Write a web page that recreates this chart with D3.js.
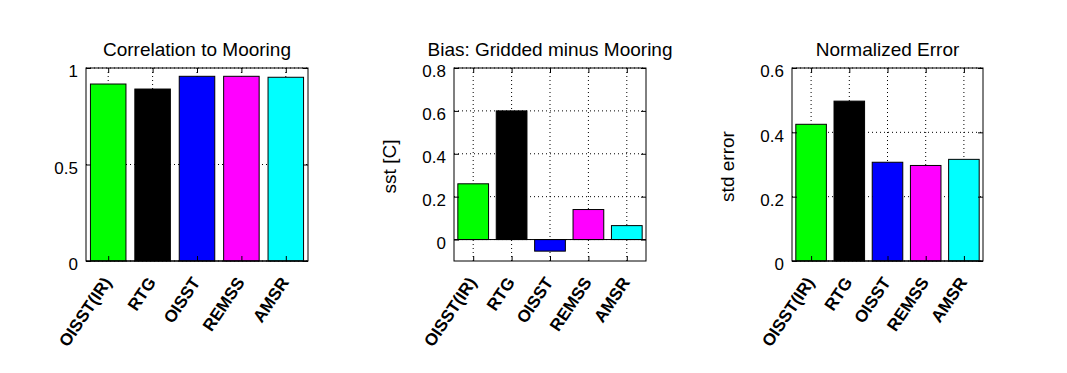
<!DOCTYPE html>
<meta charset="utf-8">
<title>Mooring comparison</title>
<style>
  body { margin: 0; background: #fff; }
  text { font-family: "Liberation Sans", Arial, sans-serif; fill: #000; }
  .title { font-size: 19px; text-anchor: middle; }
  .grid { stroke: #000; stroke-width: 1px; stroke-dasharray: 1,3; }
  .bar { stroke: #000; stroke-width: 1px; }
  .frame { fill: none; stroke: #000; stroke-width: 1px; }
</style>
<svg width="1067" height="373"></svg>
<script src="https://d3js.org/d3.v7.min.js"></script>
<script>
  var categories = ["OISST(IR)", "RTG", "OISST", "REMSS", "AMSR"];
  var barColors = ["#00ff00", "#000000", "#0000ff", "#ff00ff", "#00ffff"];

  var correlation = [0.917, 0.891, 0.957, 0.957, 0.952];
  var bias = [0.26, 0.60, -0.054, 0.14, 0.065];
  var normError = [0.425, 0.497, 0.307, 0.297, 0.316];

  var corrTicks = [0, 0.5, 1];
  var biasTicks = [0, 0.2, 0.4, 0.6, 0.8];
  var errTicks = [0, 0.2, 0.4, 0.6];

  var panels = [
    { title: "Correlation to Mooring", values: correlation, domain: [0, 1], ticks: corrTicks, ylabel: null, x0: 86, x1: 308 },
    { title: "Bias: Gridded minus Mooring", values: bias, domain: [-0.1, 0.8], ticks: biasTicks, ylabel: "sst [C]", x0: 454, x1: 646 },
    { title: "Normalized Error", values: normError, domain: [0, 0.6], ticks: errTicks, ylabel: "std error", x0: 792, x1: 983 }
  ];

  var plotTop = 68, plotBottom = 261;
  var svg = d3.select("svg");
  svg.append("rect").attr("width", 1067).attr("height", 373).attr("fill", "#fff");

  panels.forEach(function (p) {
    var g = svg.append("g");
    var x = d3.scaleLinear().domain([0.5, categories.length + 0.5]).range([p.x0, p.x1]);
    var y = d3.scaleLinear().domain(p.domain).range([plotBottom, plotTop]);
    var pos = categories.map((c, i) => i + 1);

    // dotted grid
    g.selectAll(".vgrid").data(pos).enter().append("line")
      .attr("class", "grid")
      .attr("x1", d => x(d)).attr("x2", d => x(d))
      .attr("y1", plotTop).attr("y2", plotBottom);
    g.selectAll(".hgrid").data(p.ticks).enter().append("line")
      .attr("class", "grid")
      .attr("x1", p.x0).attr("x2", p.x1)
      .attr("y1", d => y(d)).attr("y2", d => y(d));

    // bars
    g.selectAll(".bar").data(p.values).enter().append("rect")
      .attr("class", "bar")
      .attr("x", (d, i) => x(i + 1 - 0.4))
      .attr("width", x(1.4) - x(0.6))
      .attr("y", d => y(Math.max(0, d)))
      .attr("height", d => Math.abs(y(d) - y(0)))
      .attr("fill", (d, i) => barColors[i]);

    // baseline
    g.append("line").attr("stroke", "#000")
      .attr("x1", p.x0).attr("x2", p.x1)
      .attr("y1", y(0)).attr("y2", y(0));

    // axes with inward ticks
    g.append("g")
      .attr("transform", "translate(" + p.x0 + ",0)")
      .call(d3.axisLeft(y).tickValues(p.ticks).tickFormat(d3.format("")).tickSizeInner(-5).tickSizeOuter(0).tickPadding(8))
      .call(a => a.select(".domain").remove())
      .selectAll("text")
      .attr("dy", "0.52em")
      .style("font-size", "17px").style("font-family", "'Liberation Sans', Arial, sans-serif");
    g.append("g")
      .attr("transform", "translate(" + p.x1 + ",0)")
      .call(d3.axisRight(y).tickValues(p.ticks).tickFormat("").tickSizeInner(-5).tickSizeOuter(0))
      .call(a => a.select(".domain").remove());
    g.append("g")
      .attr("transform", "translate(0," + plotBottom + ")")
      .call(d3.axisBottom(x).tickValues(pos).tickFormat("").tickSizeInner(-5).tickSizeOuter(0))
      .call(a => a.select(".domain").remove());
    g.append("g")
      .attr("transform", "translate(0," + plotTop + ")")
      .call(d3.axisTop(x).tickValues(pos).tickFormat("").tickSizeInner(-5).tickSizeOuter(0))
      .call(a => a.select(".domain").remove());

    g.append("rect").attr("class", "frame")
      .attr("x", p.x0).attr("y", plotTop)
      .attr("width", p.x1 - p.x0).attr("height", plotBottom - plotTop);

    // rotated category labels
    g.selectAll(".xlab").data(categories).enter().append("text")
      .attr("transform", (d, i) => "translate(" + (x(i + 1) - 1) + "," + (plotBottom + 18) + ") rotate(-56)")
      .attr("text-anchor", "end")
      .attr("dy", "0.35em")
      .style("font-size", "17px")
      .style("font-weight", "bold")
      .text(d => d);

    g.append("text").attr("class", "title")
      .attr("x", (p.x0 + p.x1) / 2).attr("y", 56)
      .text(p.title);

    if (p.ylabel) {
      g.append("text")
        .attr("transform", "translate(" + (p.x0 - 58) + "," + ((plotTop + plotBottom) / 2 + 2) + ") rotate(-90)")
        .attr("text-anchor", "middle")
        .style("font-size", "19px")
        .text(p.ylabel);
    }
  });
</script>
